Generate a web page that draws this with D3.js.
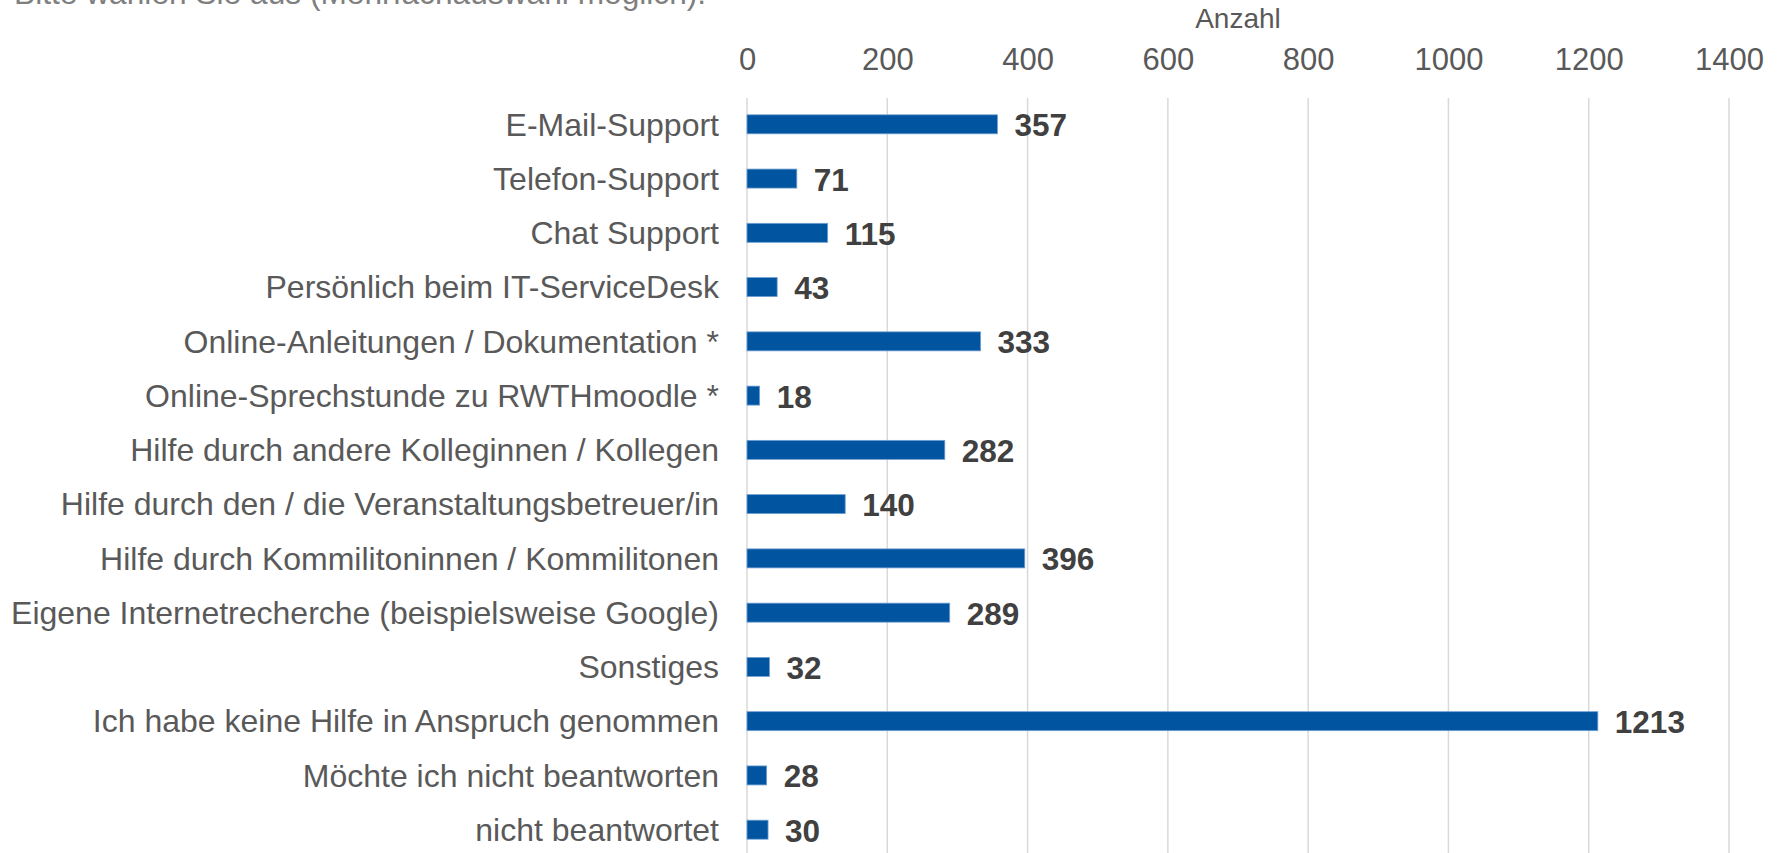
<!DOCTYPE html>
<html>
<head>
<meta charset="utf-8">
<script src="https://cdn.jsdelivr.net/npm/d3@7"></script>
<style>
  body { margin: 0; background: #fff; }
  svg { display: block; font-family: "Liberation Sans", Arial, sans-serif; }
</style>
</head>
<body>
<div id="chart"></div>
<script>
// Data
const categories = [
  "E-Mail-Support",
  "Telefon-Support",
  "Chat Support",
  "Persönlich beim IT-ServiceDesk",
  "Online-Anleitungen / Dokumentation *",
  "Online-Sprechstunde zu RWTHmoodle *",
  "Hilfe durch andere Kolleginnen / Kollegen",
  "Hilfe durch den / die Veranstaltungsbetreuer/in",
  "Hilfe durch Kommilitoninnen / Kommilitonen",
  "Eigene Internetrecherche (beispielsweise Google)",
  "Sonstiges",
  "Ich habe keine Hilfe in Anspruch genommen",
  "Möchte ich nicht beantworten",
  "nicht beantwortet"
];
const counts = [357, 71, 115, 43, 333, 18, 282, 140, 396, 289, 32, 1213, 28, 30];
const xTicks = [0, 200, 400, 600, 800, 1000, 1200, 1400];
const subtitle = "Bitte wählen Sie aus (Mehrfachauswahl möglich).";
const axisTitle = "Anzahl";

const width = 1781;
const height = 853;
const margin = { top: 98, right: 52, bottom: -3, left: 747 };

const svg = d3.select("#chart")
  .append("svg")
  .attr("width", width)
  .attr("height", height);

// Scales
const x = d3.scaleLinear()
  .domain([0, 1400])
  .range([margin.left, width - margin.right]);

const y = d3.scaleBand()
  .domain(categories)
  .range([margin.top, height - margin.bottom])
  .paddingInner(0.65)
  .paddingOuter(0.31);

// Question text, cut off at the top like in the original
svg.append("text")
  .attr("x", 14)
  .attr("y", 4)
  .attr("fill", "#7f7f7f")
  .style("font-size", "31.7px")
  .text(subtitle);

// Vertical gridlines
svg.append("g")
  .selectAll("line")
  .data(xTicks)
  .enter()
  .append("line")
  .attr("x1", d => x(d))
  .attr("x2", d => x(d))
  .attr("y1", margin.top)
  .attr("y2", height)
  .attr("stroke", "#d9d9d9")
  .attr("stroke-width", 1.5);

// Top axis labels
const xAxis = svg.append("g")
  .attr("transform", `translate(0, 70)`)
  .call(d3.axisTop(x).tickValues(xTicks).tickSize(0).tickPadding(0).tickFormat(d3.format("d")));
xAxis.select(".domain").remove();
xAxis.selectAll("text")
  .attr("fill", "#595959")
  .attr("font-family", "Liberation Sans, Arial, sans-serif")
  .style("font-size", "31px")
  .attr("dy", 0);

svg.append("text")
  .attr("x", (x(0) + x(1400)) / 2)
  .attr("y", 28)
  .attr("text-anchor", "middle")
  .attr("fill", "#595959")
  .style("font-size", "28px")
  .text(axisTitle);

// Category labels
const yAxis = svg.append("g")
  .attr("transform", `translate(${margin.left - 28}, 0)`)
  .call(d3.axisLeft(y).tickSize(0).tickPadding(0));
yAxis.select(".domain").remove();
yAxis.selectAll("text")
  .attr("fill", "#595959")
  .attr("font-family", "Liberation Sans, Arial, sans-serif")
  .style("font-size", "32px")
  .attr("dy", "0.35em");

// Bars
svg.append("g")
  .selectAll("rect")
  .data(counts)
  .enter()
  .append("rect")
  .attr("x", x(0))
  .attr("y", (d, i) => y(categories[i]))
  .attr("width", d => x(d) - x(0))
  .attr("height", y.bandwidth())
  .attr("fill", "#0054a0")
  .attr("stroke", "#6f9fd2")
  .attr("stroke-width", 0.8);

// Value labels
svg.append("g")
  .selectAll("text")
  .data(counts)
  .enter()
  .append("text")
  .attr("x", d => x(d) + 17)
  .attr("y", (d, i) => y(categories[i]) + y.bandwidth() / 2 + 12)
  .attr("fill", "#404040")
  .style("font-size", "31.5px")
  .style("font-weight", "bold")
  .text(d => d);
</script>
</body>
</html>
